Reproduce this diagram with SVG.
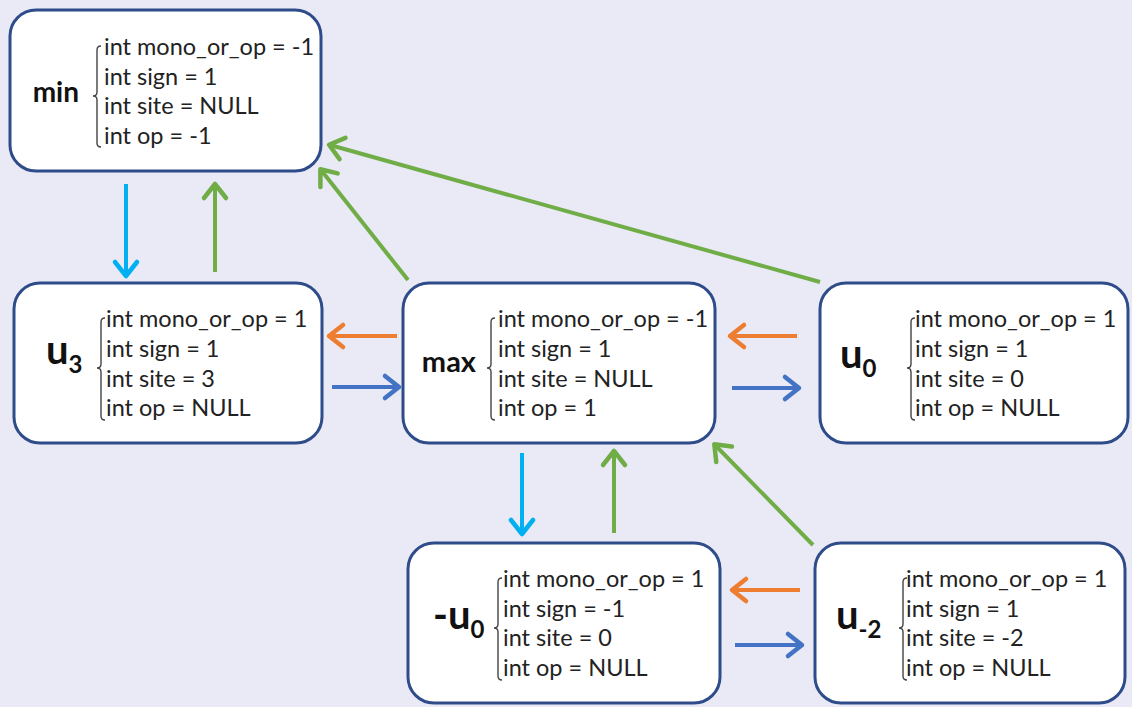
<svg xmlns="http://www.w3.org/2000/svg" width="1132" height="707" viewBox="0 0 1132 707">
<style>
.box{fill:#fff;stroke:#2F4C8A;stroke-width:3}
.t{font-family:Lato,"Liberation Sans",sans-serif;font-size:23.5px;fill:#222}
.lbl{font-family:Lato,"Liberation Sans",sans-serif;font-weight:bold;fill:#111}
.br{fill:none;stroke:#444;stroke-width:1.4}
.a{fill:none;stroke-width:4}
.cy{stroke:#00B0F0}.gr{stroke:#70AD47}.or{stroke:#ED7D31}.bl{stroke:#4472C4}
</style>
<defs>
<marker id="mcy" markerUnits="userSpaceOnUse" orient="auto" refX="0" refY="0" markerWidth="30" markerHeight="30" viewBox="-20 -15 30 30" overflow="visible"><path d="M-13,-11 L1,0 L-13,11" fill="none" stroke="#00B0F0" stroke-width="4.5" stroke-linecap="round" stroke-linejoin="round"/></marker>
<marker id="mgr" markerUnits="userSpaceOnUse" orient="auto" refX="0" refY="0" markerWidth="30" markerHeight="30" viewBox="-20 -15 30 30" overflow="visible"><path d="M-13,-11 L1,0 L-13,11" fill="none" stroke="#70AD47" stroke-width="4.5" stroke-linecap="round" stroke-linejoin="round"/></marker>
<marker id="mor" markerUnits="userSpaceOnUse" orient="auto" refX="0" refY="0" markerWidth="30" markerHeight="30" viewBox="-20 -15 30 30" overflow="visible"><path d="M-13,-11 L1,0 L-13,11" fill="none" stroke="#ED7D31" stroke-width="4.5" stroke-linecap="round" stroke-linejoin="round"/></marker>
<marker id="mbl" markerUnits="userSpaceOnUse" orient="auto" refX="0" refY="0" markerWidth="30" markerHeight="30" viewBox="-20 -15 30 30" overflow="visible"><path d="M-13,-11 L1,0 L-13,11" fill="none" stroke="#4472C4" stroke-width="4.5" stroke-linecap="round" stroke-linejoin="round"/></marker>
</defs>
<rect x="0" y="0" width="1132" height="707" fill="#E9EAF5"/>

<g id="connectors">
<line class="a cy" x1="126" y1="184" x2="126" y2="275" marker-end="url(#mcy)"/>
<line class="a gr" x1="215" y1="272" x2="215" y2="185" marker-end="url(#mgr)"/>
<line class="a gr" x1="408" y1="280" x2="321" y2="170" marker-end="url(#mgr)"/>
<line class="a gr" x1="820" y1="282" x2="330" y2="145" marker-end="url(#mgr)"/>
<line class="a or" x1="397" y1="336" x2="330" y2="336" marker-end="url(#mor)"/>
<line class="a bl" x1="332" y1="387" x2="398" y2="387" marker-end="url(#mbl)"/>
<line class="a or" x1="797" y1="336" x2="731" y2="336" marker-end="url(#mor)"/>
<line class="a bl" x1="732" y1="388" x2="798" y2="388" marker-end="url(#mbl)"/>
<line class="a cy" x1="522" y1="453" x2="522" y2="533" marker-end="url(#mcy)"/>
<line class="a gr" x1="614" y1="533" x2="614" y2="452" marker-end="url(#mgr)"/>
<line class="a gr" x1="813" y1="545" x2="715" y2="445" marker-end="url(#mgr)"/>
<line class="a or" x1="800" y1="590" x2="733" y2="590" marker-end="url(#mor)"/>
<line class="a bl" x1="735" y1="645" x2="801" y2="645" marker-end="url(#mbl)"/>
</g>

<g id="node-min">
<rect class="box" x="10" y="10" width="311" height="161" rx="26"/>
<text class="lbl" x="79" y="102" font-size="28" text-anchor="end">min</text>
<path class="br" d="M101,46 Q97,46 97,50 L97,92 Q97,96 93,96 Q97,96 97,100 L97,143 Q97,147 101,147"/>
<text class="t" x="104" y="55">int mono_or_op = -1</text>
<text class="t" x="104" y="85">int sign = 1</text>
<text class="t" x="104" y="114">int site = NULL</text>
<text class="t" x="104" y="144">int op = -1</text>
</g>

<g id="node-u3">
<rect class="box" x="14" y="283" width="308" height="160" rx="26"/>
<text class="lbl" x="46" y="364" font-size="40">u<tspan font-size="24" dy="9">3</tspan></text>
<path class="br" d="M105,318 Q101,318 101,322 L101,364 Q101,368 97,368 Q101,368 101,372 L101,416 Q101,420 105,420"/>
<text class="t" x="106" y="327">int mono_or_op = 1</text>
<text class="t" x="106" y="357">int sign = 1</text>
<text class="t" x="106" y="387">int site = 3</text>
<text class="t" x="106" y="416">int op = NULL</text>
</g>

<g id="node-max">
<rect class="box" x="403" y="283" width="312" height="160" rx="26"/>
<text class="lbl" x="476" y="372" font-size="29" text-anchor="end">max</text>
<path class="br" d="M495,318 Q491,318 491,322 L491,364 Q491,368 487,368 Q491,368 491,372 L491,416 Q491,420 495,420"/>
<text class="t" x="498" y="327">int mono_or_op = -1</text>
<text class="t" x="498" y="357">int sign = 1</text>
<text class="t" x="498" y="387">int site = NULL</text>
<text class="t" x="498" y="416">int op = 1</text>
</g>

<g id="node-u0">
<rect class="box" x="820" y="283" width="308" height="160" rx="26"/>
<text class="lbl" x="840" y="368" font-size="40">u<tspan font-size="24" dy="9">0</tspan></text>
<path class="br" d="M915,318 Q911,318 911,322 L911,364 Q911,368 907,368 Q911,368 911,372 L911,416 Q911,420 915,420"/>
<text class="t" x="915" y="327">int mono_or_op = 1</text>
<text class="t" x="915" y="357">int sign = 1</text>
<text class="t" x="915" y="387">int site = 0</text>
<text class="t" x="915" y="416">int op = NULL</text>
</g>

<g id="node-neg-u0">
<rect class="box" x="408" y="543" width="312" height="160" rx="26"/>
<text class="lbl" x="433" y="629" font-size="40">-u<tspan font-size="24" dy="9">0</tspan></text>
<path class="br" d="M502,578 Q498,578 498,582 L498,624 Q498,628 494,628 Q498,628 498,632 L498,676 Q498,680 502,680"/>
<text class="t" x="503" y="587">int mono_or_op = 1</text>
<text class="t" x="503" y="617">int sign = -1</text>
<text class="t" x="503" y="646">int site = 0</text>
<text class="t" x="503" y="676">int op = NULL</text>
</g>

<g id="node-u-2">
<rect class="box" x="815" y="543" width="310" height="160" rx="26"/>
<text class="lbl" x="836" y="629" font-size="40">u<tspan font-size="24" dy="9">-2</tspan></text>
<path class="br" d="M907,578 Q903,578 903,582 L903,624 Q903,628 899,628 Q903,628 903,632 L903,676 Q903,680 907,680"/>
<text class="t" x="906" y="587">int mono_or_op = 1</text>
<text class="t" x="906" y="617">int sign = 1</text>
<text class="t" x="906" y="646">int site = -2</text>
<text class="t" x="906" y="676">int op = NULL</text>
</g>
</svg>
